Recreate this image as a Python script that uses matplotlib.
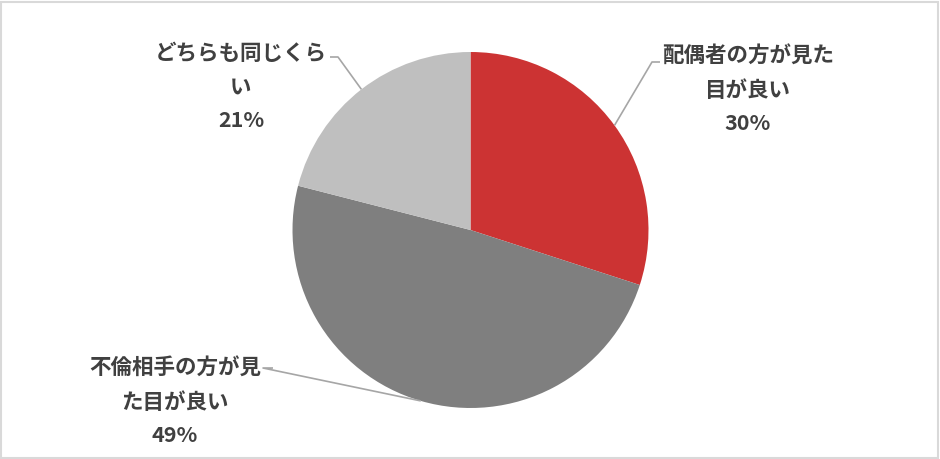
import matplotlib
matplotlib.use("Agg")
import matplotlib.pyplot as plt
import numpy as np

plt.rcParams['font.family'] = ['Noto Sans CJK JP', 'DejaVu Sans']

categories = ["配偶者の方が見た\n目が良い", "不倫相手の方が見\nた目が良い", "どちらも同じくら\nい"]
values = [30, 49, 21]
colors = ["#CC3333", "#7F7F7F", "#BFBFBF"]

W, H = 940, 459
fig = plt.figure(figsize=(W / 100, H / 100), dpi=100)
ax = fig.add_axes([0, 0, 1, 1])
ax.set_xlim(0, W)
ax.set_ylim(0, H)
ax.axis('off')

cx, cy, r = 470.5, H - 230, 178
wedges, _ = ax.pie(values, colors=colors, startangle=90, counterclock=False,
                   center=(cx, cy), radius=r, frame=True)
ax.set_xlim(0, W)
ax.set_ylim(0, H)
ax.set_aspect('auto')
ax.axis('off')

# label layout (pixel coords from top)
label_pos = [(748, 90), (175, 402), (241, 87)]
elbow = [((660, 62), (652, 62)), ((273, 368), (263, 368)), ((330, 57), (338, 57))]
line_col = "#A6A6A6"
for w, v, cat, (lx, ly), (e1, e2) in zip(wedges, values, categories, label_pos, elbow):
    ang = np.deg2rad((w.theta1 + w.theta2) / 2)
    px, py = cx + r * np.cos(ang), cy + r * np.sin(ang)
    # leader: wedge edge -> elbow -> horizontal to label
    if e1[0] > e2[0]:
        pts = [(px, py), (e2[0], H - e2[1]), (e1[0], H - e1[1])]
    else:
        pts = [(px, py), (e2[0], H - e2[1]), (e1[0], H - e1[1])]
    xs, ys = zip(*pts)
    ax.plot(xs, ys, color=line_col, lw=1.2, solid_capstyle='butt')
    ax.text(lx, H - ly, f"{cat}\n{v}%", ha='center', va='center',
            fontsize=15.5, fontweight='bold', color='#404040', linespacing=1.75)

# outer border
fig.patches.append(plt.Rectangle((1 / W, 1 / H), 1 - 3 / W, 1 - 3 / H,
                                 transform=fig.transFigure, fill=False,
                                 edgecolor="#D9D9D9", lw=1.5))

fig.savefig("out.png", dpi=100, facecolor="white")
